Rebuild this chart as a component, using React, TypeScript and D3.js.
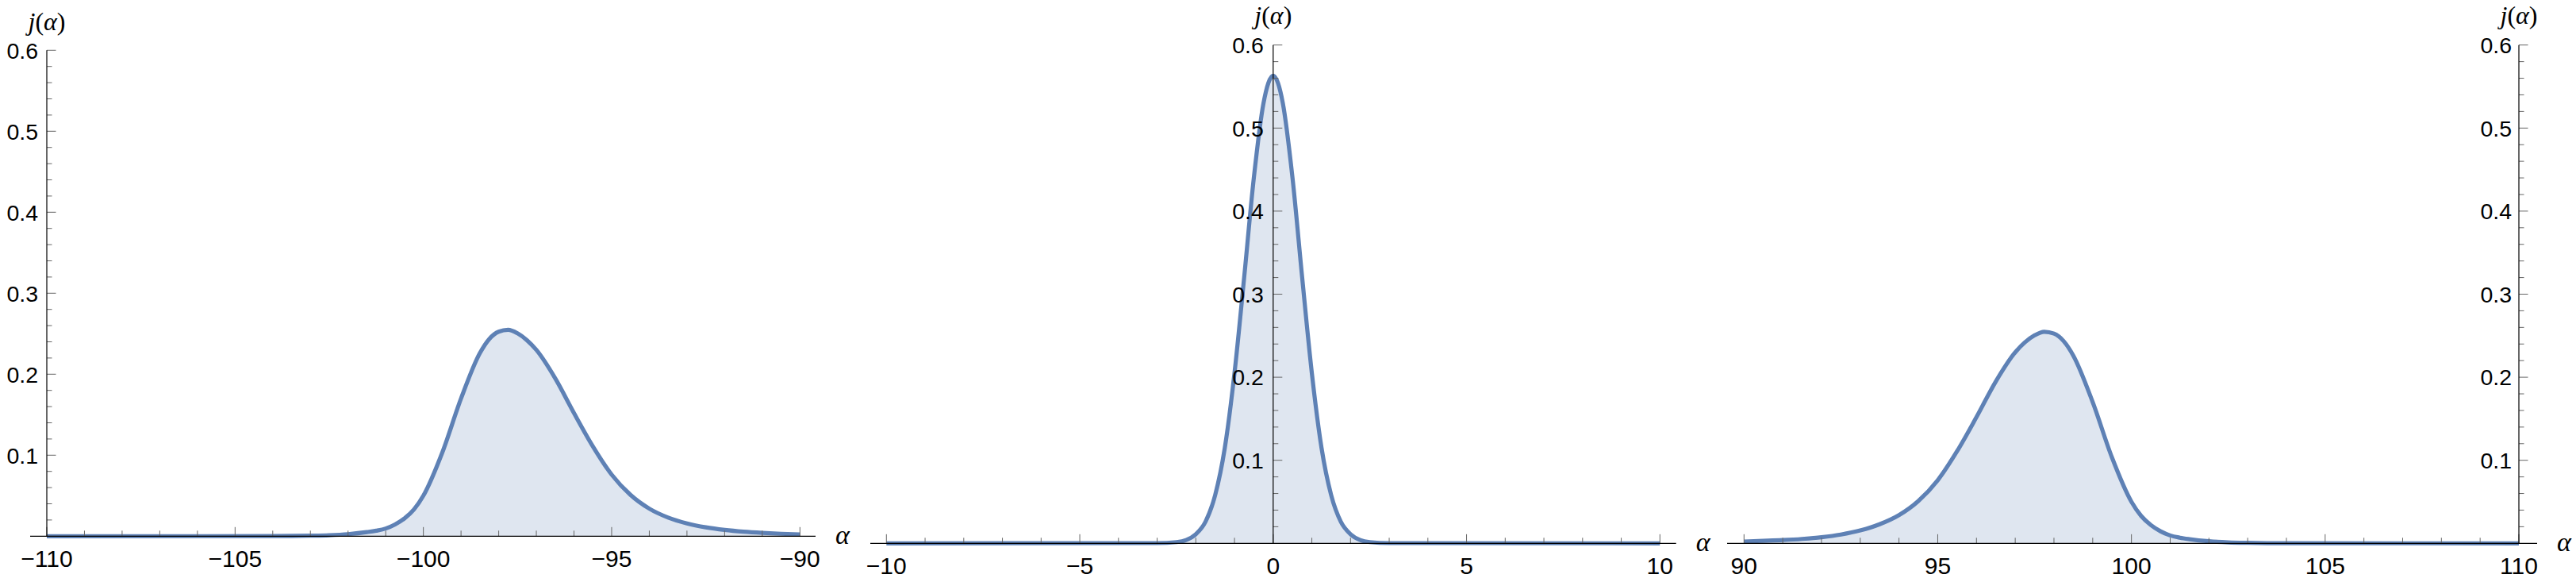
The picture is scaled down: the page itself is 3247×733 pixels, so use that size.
import React from "react";
import * as d3 from "d3";

// ---------- data ----------
const leftAlpha = [-110, -104, -103, -102.5, -102, -101.5, -101.25, -101, -100.75, -100.5, -100.25, -100, -99.5, -99, -98.5, -98.25, -98, -97.75, -97.5, -97.25, -97, -96.5, -96, -95.5, -95, -94.5, -94, -93.5, -93, -92.5, -92, -91.5, -91, -90.5, -90];
const leftJ = [0, 0.0001, 0.0006, 0.0012, 0.0025, 0.005, 0.0068, 0.0095, 0.0145, 0.022, 0.033, 0.05, 0.103, 0.17, 0.226, 0.2435, 0.2525, 0.2548, 0.2505, 0.242, 0.23, 0.195, 0.152, 0.111, 0.076, 0.051, 0.034, 0.023, 0.0158, 0.011, 0.0078, 0.0056, 0.0041, 0.003, 0.0022];

const midAlpha = [-10, -3, -2.5, -2.25, -2, -1.75, -1.5, -1.25, -1, -0.75, -0.5, -0.25, 0, 0.25, 0.5, 0.75, 1, 1.25, 1.5, 1.75, 2, 2.25, 2.5, 3, 10];
const midJ = [0, 0.0003, 0.0015, 0.004, 0.011, 0.026, 0.058, 0.115, 0.205, 0.32, 0.44, 0.53, 0.563, 0.53, 0.44, 0.32, 0.205, 0.115, 0.058, 0.026, 0.011, 0.004, 0.0015, 0.0003, 0];

const rightAlpha = [90, 90.5, 91, 91.5, 92, 92.5, 93, 93.5, 94, 94.5, 95, 95.5, 96, 96.5, 97, 97.25, 97.5, 97.75, 98, 98.25, 98.5, 99, 99.5, 100, 100.25, 100.5, 100.75, 101, 101.25, 101.5, 102, 102.5, 103, 104, 110];
const rightJ = [0.0022, 0.003, 0.0039, 0.0053, 0.0074, 0.0106, 0.0155, 0.023, 0.034, 0.051, 0.076, 0.111, 0.152, 0.195, 0.23, 0.242, 0.2505, 0.2548, 0.2525, 0.2435, 0.226, 0.17, 0.103, 0.05, 0.033, 0.022, 0.0145, 0.0095, 0.0068, 0.005, 0.0025, 0.0012, 0.0006, 0.0001, 0];

const yTickValues = [0.1, 0.2, 0.3, 0.4, 0.5, 0.6];
const leftXTicks = [-110, -105, -100, -95, -90];
const midXTicks = [-10, -5, 0, 5, 10];
const rightXTicks = [90, 95, 100, 105, 110];

const BLUE = "#5E81B5";
const TICK = "#666666";
const SANS = "'Liberation Sans', Arial, sans-serif";
const SERIF = "'Liberation Serif', 'Times New Roman', serif";

type PanelProps = {
  xs: number[];
  ys: number[];
  xDomain: [number, number];
  xPix: [number, number];
  yPix: [number, number]; // [zero, 0.6]
  yAxisAt: number;
  axisExtent: [number, number];
  majorX: number[];
  labelTop: number;
  yLabelGap: number;
};

function Panel(p: PanelProps) {
  const x = d3.scaleLinear().domain(p.xDomain).range(p.xPix);
  const y = d3.scaleLinear().domain([0, 0.6]).range(p.yPix);
  const pts: [number, number][] = p.xs.map((v, i) => [v, p.ys[i]]);
  const line = d3
    .line<[number, number]>()
    .x((d) => x(d[0]))
    .y((d) => y(d[1]))
    .curve(d3.curveMonotoneX);
  const area = d3
    .area<[number, number]>()
    .x((d) => x(d[0]))
    .y0(y(0))
    .y1((d) => y(d[1]))
    .curve(d3.curveMonotoneX);

  const [lo, hi] = p.xDomain;
  const minorX = d3.range(Math.round(lo), Math.round(hi) + 1, 1);
  const minorY = d3.range(1, 31).map((i) => i * 0.02);
  const ax = x(p.yAxisAt);
  const y0 = y(0);
  const fmtX = (v: number) => (v < 0 ? "\u2212" + Math.abs(v) : String(v));

  return (
    <g>
      <path d={area(pts) || ""} fill={BLUE} fillOpacity={0.2} stroke="none" />
      <path d={line(pts) || ""} fill="none" stroke={BLUE} strokeWidth={5.2} strokeLinejoin="round" />

      {/* x ticks */}
      {minorX.map((v) => {
        const major = v % 5 === 0;
        return (
          <line key={"xt" + v} x1={x(v)} x2={x(v)} y1={y0} y2={y0 - (major ? 11.5 : 7)} stroke={TICK} strokeWidth={1} />
        );
      })}
      {/* y ticks */}
      {minorY.map((v, i) => {
        const major = (i + 1) % 5 === 0;
        return (
          <line key={"yt" + i} x1={ax} x2={ax + (major ? 11.5 : 6.5)} y1={y(v)} y2={y(v)} stroke={TICK} strokeWidth={1} />
        );
      })}
      {/* axes */}
      <line x1={p.axisExtent[0]} x2={p.axisExtent[1]} y1={y0} y2={y0} stroke="#000" strokeWidth={1.2} />
      <line x1={ax} x2={ax} y1={y0} y2={y(0.6)} stroke="#000" strokeWidth={1.2} />

      {/* x tick labels */}
      {p.majorX.map((v) => (
        <text key={"xl" + v} x={x(v)} y={y0 + 38.5} textAnchor="middle" fontFamily={SANS} fontSize={30} fill="#000">
          {fmtX(v)}
        </text>
      ))}
      {/* y tick labels */}
      {yTickValues.map((v) => (
        <text key={"yl" + v} x={ax - p.yLabelGap} y={y(v)} dy="0.36em" textAnchor="end" fontFamily={SANS} fontSize={28.5} fill="#000">
          {v.toFixed(1)}
        </text>
      ))}
      {/* axis labels */}
      <text x={p.axisExtent[1] + 25} y={y0 + 10} fontFamily={SERIF} fontStyle="italic" fontSize={34} fill="#000">
        α
      </text>
      <text x={ax} y={p.labelTop} textAnchor="middle" fontFamily={SERIF} fontSize={32} fill="#000">
        <tspan fontStyle="italic">j</tspan>(<tspan fontStyle="italic">α</tspan>)
      </text>
    </g>
  );
}

export default function App() {
  return (
    <svg width={3247} height={733} style={{ position: "absolute", left: 0, top: 0, background: "#fff" }}>
      <rect x={0} y={0} width={3247} height={733} fill="#fff" />
      <Panel
        xs={leftAlpha}
        ys={leftJ}
        xDomain={[-110, -90]}
        xPix={[59, 1008.3]}
        yPix={[675.3, 63.3]}
        yAxisAt={-110}
        axisExtent={[38, 1028]}
        majorX={leftXTicks}
        labelTop={38}
        yLabelGap={11}
      />
      <Panel
        xs={midAlpha}
        ys={midJ}
        xDomain={[-10, 10]}
        xPix={[1117.3, 2092.3]}
        yPix={[684.3, 56.7]}
        yAxisAt={0}
        axisExtent={[1097, 2112.7]}
        majorX={midXTicks}
        labelTop={30}
        yLabelGap={12}
      />
      <Panel
        xs={rightAlpha}
        ys={rightJ}
        xDomain={[90, 110]}
        xPix={[2198.3, 3175]}
        yPix={[684.3, 56.7]}
        yAxisAt={110}
        axisExtent={[2177, 3198]}
        majorX={rightXTicks}
        labelTop={30}
        yLabelGap={9}
      />
    </svg>
  );
}
